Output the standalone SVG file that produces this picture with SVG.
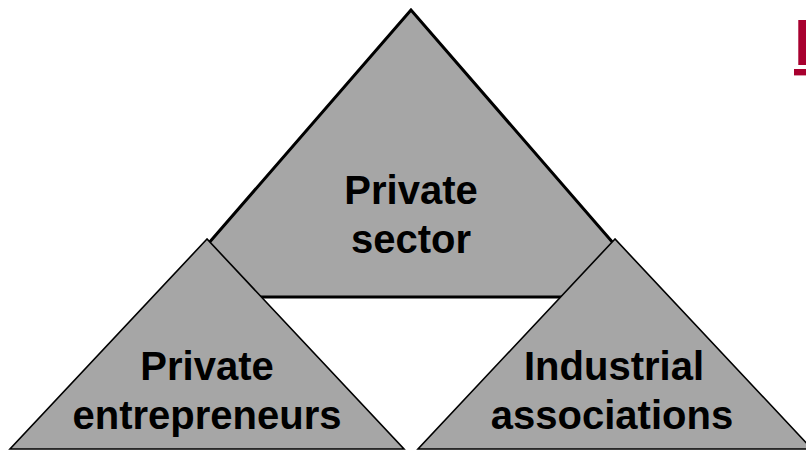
<svg xmlns="http://www.w3.org/2000/svg" width="806" height="450" viewBox="0 0 806 450">
<style>
.tri{fill:#A6A6A6;stroke:#000;stroke-linejoin:miter}
.big{stroke-width:3}
.small{stroke-width:1.6}
.lbl{font-family:"Liberation Sans",Arial,sans-serif;font-weight:bold;font-size:40px;fill:#000;text-anchor:middle}
.title{font-family:"Liberation Sans",Arial,sans-serif;font-weight:bold;font-size:64px;fill:#A8002F;text-decoration:underline}
</style>
<rect width="806" height="450" fill="#fff"/>
<g id="connectors"></g>
<g id="private-sector">
<polygon class="tri big" points="411,10 162,297 660,297"/>
<text class="lbl" x="411" y="204">Private</text>
<text class="lbl" x="411" y="253">sector</text>
</g>
<g id="private-entrepreneurs">
<polygon class="tri small" points="207,239 10,449 404,449"/>
<text class="lbl" x="207" y="380">Private</text>
<text class="lbl" x="207" y="429">entrepreneurs</text>
</g>
<g id="industrial-associations">
<polygon class="tri small" points="615,239 418,449 812,449"/>
<text class="lbl" x="614" y="380">Industrial</text>
<text class="lbl" x="612" y="429">associations</text>
</g>
<g id="title">
<text class="title" x="794" y="65">I</text>
</g>
</svg>
